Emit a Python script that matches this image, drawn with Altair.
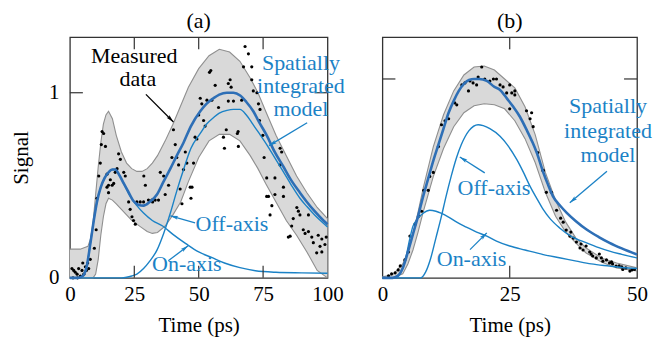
import math
import altair as alt
import pandas as pd

# ---------------- Panel (a) data ----------------
a_model_t = [0, 3, 5, 6.5, 8, 9.5, 10.5, 12, 13.5, 15, 16.5, 17.6, 19, 20.9, 22.5, 24.7, 26.5, 28.6, 31, 33.8,
             36, 39, 41.5, 44.1, 47, 50.6, 53, 55.7, 58, 60.9, 63.5, 66.1, 68.5, 71.2, 73.5, 76.4, 79.5, 82.9,
             86, 89.3, 92, 95, 98.4, 100]
a_model_s = [0, 0, 0.01, 0.06, 0.19, 0.33, 0.41, 0.49, 0.54, 0.57, 0.585, 0.585, 0.56, 0.51, 0.47, 0.415, 0.395,
             0.39, 0.41, 0.45, 0.51, 0.59, 0.66, 0.73, 0.82, 0.9, 0.94, 0.97, 0.99, 1.0, 1.0, 0.985, 0.95, 0.9,
             0.84, 0.77, 0.68, 0.6, 0.525, 0.46, 0.41, 0.36, 0.31, 0.29]

a_on_t = [0, 3, 5, 6.5, 8, 9.5, 10.5, 12, 13.5, 15, 16.5, 17.6, 19, 20.9, 23, 26, 28.6, 32, 36, 40, 45, 50, 55,
          60, 66, 72, 80, 90, 100]
a_on_s = [0, 0, 0.01, 0.06, 0.19, 0.33, 0.41, 0.49, 0.54, 0.57, 0.585, 0.585, 0.56, 0.51, 0.45, 0.39, 0.35, 0.31,
          0.28, 0.235, 0.185, 0.14, 0.11, 0.08, 0.055, 0.038, 0.03, 0.027, 0.025]

a_off_t = [0, 20, 22, 24, 26, 28.6, 31, 33.8, 36.4, 39, 41.5, 44, 47, 50.6, 53, 55.7, 58, 61, 63.5, 66, 68.5,
           71, 73.5, 76.4, 79.5, 83, 86, 89.3, 92, 95, 98.4, 100]
a_off_s = [0, 0, 0.003, 0.01, 0.02, 0.05, 0.09, 0.15, 0.24, 0.35, 0.47, 0.58, 0.7, 0.78, 0.83, 0.865, 0.89, 0.905,
           0.91, 0.91, 0.88, 0.83, 0.78, 0.72, 0.65, 0.57, 0.5, 0.43, 0.385, 0.34, 0.295, 0.275]

a_band_t = [0, 4, 7, 8, 9, 10, 11, 12, 13, 14, 15, 16.5, 18, 20, 22, 24, 26, 28, 30, 32, 34, 37, 40, 43, 46, 50,
            54, 58, 62, 66, 70, 73, 76, 80, 84, 88, 92, 96, 100]
a_band_hi = [0.155, 0.155, 0.17, 0.21, 0.3, 0.45, 0.6, 0.73, 0.83, 0.88, 0.9, 0.86, 0.77, 0.68, 0.62, 0.59, 0.575,
             0.575, 0.59, 0.62, 0.66, 0.74, 0.83, 0.93, 1.03, 1.13, 1.2, 1.235, 1.22, 1.17, 1.08, 1.0, 0.9, 0.77,
             0.66, 0.55, 0.46, 0.38, 0.32]
a_band_lo = [0, 0, 0, 0, 0, 0.02, 0.1, 0.23, 0.33, 0.4, 0.43, 0.42, 0.4, 0.37, 0.34, 0.31, 0.29, 0.27, 0.25, 0.24,
             0.245, 0.28, 0.34, 0.41, 0.52, 0.65, 0.74, 0.775, 0.775, 0.74, 0.66, 0.59, 0.51, 0.41, 0.31, 0.23,
             0.14, 0.04, 0.0]

a_pts_t = [0.8, 1.5, 2.1, 2.8, 3.4, 4.1, 4.7, 5.4, 6.0, 6.4, 6.9, 7.3, 7.9, 1.2, 3.0, 5.0,
           9.5, 10.2, 10.5, 11.2, 11.8, 12.2, 12.5, 13.1, 13.8, 14.4, 14.4, 15, 15, 15.7, 16.4, 17, 17.6, 18.3,
           18.9, 19.6, 20.9, 21.5, 22.8, 23.4, 24.1, 24.7, 25.4, 26, 27.3, 28.6, 28.7, 29.3, 30.5, 31.8, 32.1,
           33.1, 34.4,
           35.1, 36.4, 37, 38.3, 39.6, 40.2, 40.9, 41.5, 42.2, 42.8, 43.5, 44.1, 44.8, 45.4, 46.7, 47.0, 47.4, 48,
           48.6, 49.3, 50, 50.6, 51.2, 51.9, 52.5, 53.2, 54.2, 54.7, 55.1, 56.4, 57.7, 59.6, 60, 60.7, 61.5, 62.2,
           62.6, 61.5, 63.5, 65, 65.3, 65.4, 66.7, 67.4, 68, 69.3, 70.6, 70.6, 71.2, 72.6, 73.2, 73.6, 73.8, 74.9,
           75.4,
           76.4, 76.4, 77.1, 77.7, 78.4, 79.6, 79.6, 81.6, 81.6, 82.2, 82.9, 82.9, 84.8, 85.5, 86.1, 86.7, 88.1,
           88.7, 89.3, 90.6, 91.3, 92.6, 92.6, 93.9, 94.5, 95.8, 96.4, 97.1, 97.8, 97.8, 99, 99.5]
a_pts_s = [0.05, 0.04, 0.03, 0.02, 0.05, 0.01, 0.04, 0.02, 0.06, 0.04, 0.08, 0.05, 0.10, 0.0, 0.0, 0.08,
           0.16, 0.26, 0.43, 0.55, 0.62, 0.72, 0.79, 0.78, 0.71, 0.49, 0.56, 0.46, 0.5, 0.53, 0.5, 0.51, 0.57, 0.59,
           0.67, 0.64, 0.57, 0.55, 0.41, 0.37, 0.33, 0.31, 0.29, 0.41, 0.41, 0.41, 0.55, 0.50, 0.42, 0.42, 0.41,
           0.42, 0.42,
           0.57, 0.55, 0.45, 0.5, 0.65, 0.80, 0.72, 0.65, 0.61, 0.48, 0.40, 0.585, 0.68, 0.62, 0.49, 0.43, 0.49,
           0.62, 0.76, 0.75, 0.88, 0.97, 0.94, 0.85, 0.82, 0.96, 1.11, 1.12, 0.96, 1.04, 0.92, 0.76, 0.70, 0.80,
           1.05, 1.07, 1.03, 0.955, 0.955, 0.78, 0.79, 0.71, 0.96, 1.14, 1.25, 1.21, 1.14, 1.07, 1.01, 1.0, 0.94,
           0.85, 0.91, 0.77, 0.65,
           0.54, 0.44, 0.44, 0.34, 0.39, 0.54, 0.45, 0.70, 0.61, 0.68, 0.44, 0.49, 0.22, 0.225, 0.28, 0.32, 0.38,
           0.36, 0.34, 0.26, 0.24, 0.25, 0.34, 0.22, 0.19, 0.135, 0.23, 0.17, 0.21, 0.14, 0.18, 0.22]

# ---------------- Panel (b) data ----------------
b_model_t = [0, 2, 3, 4, 5, 6, 7, 8, 9, 10, 11, 12, 13, 14, 15, 16, 17, 18, 19, 20.5, 22, 23.1, 24.5, 25.7, 27,
             28.3, 29.5, 30.3, 31.6, 32.5, 33.5, 35, 36.2, 38, 40.1, 42.5, 44.6, 47, 50]
b_model_s = [0, 0, 0.01, 0.05, 0.13, 0.22, 0.31, 0.41, 0.5, 0.59, 0.67, 0.75, 0.83, 0.89, 0.94, 0.975, 0.995, 1.0,
             1.0, 0.99, 0.96, 0.945, 0.9, 0.86, 0.81, 0.745, 0.68, 0.63, 0.53, 0.47, 0.41, 0.36, 0.327, 0.285,
             0.243, 0.205, 0.176, 0.148, 0.117]

b_on_t = [0, 2.5, 3.5, 4.5, 5.4, 6, 6.7, 8, 9.3, 10.5, 11.5, 13, 14.6, 16.5, 18.5, 20.5, 22.4, 25, 28, 31.6, 35,
          38.1, 41, 44.6, 47, 50]
b_on_s = [0, 0, 0.02, 0.09, 0.2, 0.26, 0.29, 0.325, 0.34, 0.335, 0.325, 0.305, 0.28, 0.255, 0.23, 0.21, 0.185,
          0.16, 0.14, 0.117, 0.1, 0.084, 0.07, 0.059, 0.052, 0.047]

b_off_t = [0, 7.5, 8.5, 9.5, 10.5, 11.5, 12.5, 13.5, 14.5, 15.5, 17, 18.8, 19.8, 21.1, 23.1, 24.5, 26.4, 27.7, 29,
           30.3, 31.6, 33, 34.8, 37, 40.1, 42.5, 44.6, 47, 50]
b_off_s = [0, 0, 0.03, 0.1, 0.2, 0.3, 0.41, 0.51, 0.6, 0.67, 0.74, 0.77, 0.765, 0.75, 0.712, 0.67, 0.594, 0.53,
           0.46, 0.4, 0.343, 0.295, 0.251, 0.21, 0.176, 0.152, 0.134, 0.118, 0.1]

b_band_t = [0, 2, 4, 5, 6, 7, 8, 10, 12, 14, 16, 18, 20, 22, 24, 26, 28, 30, 32, 34, 36, 38, 40, 43, 46, 50]
b_band_hi = [0.005, 0.015, 0.07, 0.13, 0.22, 0.33, 0.45, 0.66, 0.82, 0.94, 1.02, 1.06, 1.065, 1.045, 1.0, 0.955,
             0.86, 0.72, 0.53, 0.39, 0.28, 0.2, 0.15, 0.1, 0.075, 0.05]
b_band_lo = [0, 0, 0.02, 0.07, 0.14, 0.23, 0.33, 0.51, 0.65, 0.76, 0.83, 0.865, 0.875, 0.87, 0.85, 0.79, 0.7,
             0.58, 0.43, 0.31, 0.23, 0.175, 0.125, 0.08, 0.05, 0.035]

b_pts_t = [1.2, 1.8, 2.5, 3.1, 3.5, 4.4, 5.1, 5.4, 6.4, 7.1, 7.7, 8.1, 9, 9.3, 10, 11, 11.6, 12.3, 13, 14.2, 14.6,
           15.6, 16.2, 16.9, 17.2, 17.8, 18.5, 18.8, 19.5, 20.1, 21.1, 21.8, 22.4, 23.1, 23.7, 24.4, 25, 25.4, 26,
           26, 25, 28.3, 29, 29.3, 29.6, 30.5, 31.5, 31.6, 32.2, 33.2, 34.2, 35.5, 36.1, 36.8, 37.5, 38.1, 38.8,
           39.4, 40, 40.7, 41.3, 42, 42.6, 43.3, 44, 44.6, 45.2, 45.9, 46.5, 47.2, 47.8, 48.6, 49.5, 35, 37, 39,
           41, 43, 45, 47, 49]
b_pts_s = [0.01, 0.02, 0.025, 0.04, 0.06, 0.09, 0.13, 0.21, 0.27, 0.31, 0.335, 0.44, 0.44, 0.51, 0.53, 0.66, 0.77,
           0.79, 0.8, 0.88, 0.87, 0.97, 0.98, 0.94, 0.99, 0.98, 0.97, 1.01, 1.06, 1.0, 0.99, 1.0, 1.0, 0.97, 0.96,
           0.93, 0.97, 0.93, 0.94, 0.92, 0.85, 0.84, 0.80, 0.83, 0.76, 0.63, 0.54, 0.54, 0.43, 0.43, 0.34, 0.28,
           0.24, 0.21, 0.2, 0.18, 0.15, 0.14, 0.16, 0.13, 0.11, 0.10, 0.12, 0.084, 0.09, 0.075, 0.07, 0.059, 0.06,
           0.042, 0.05, 0.034, 0.042, 0.3, 0.23, 0.17, 0.12, 0.1, 0.08, 0.055, 0.04]

# ---------------- Annotations ----------------
a_text = ["Measured", "data", "Spatially", "integrated", "model", "Off-axis", "On-axis"]
a_text_t = [25.0, 26.4, 89.7, 89.7, 89.7, 62.9, 45.4]
a_text_s = [1.16, 1.035, 1.124, 1.0, 0.876, 0.254, 0.038]
a_text_black = [True, True, False, False, False, False, False]
a_arrow_t = [29.5, 92.1, 48.6, 38.2]
a_arrow_s = [0.991, 0.838, 0.297, 0.092]
a_arrow_t2 = [40.2, 77.3, 39.0, 45.9]
a_arrow_s2 = [0.842, 0.714, 0.335, 0.173]
a_arrow_black = [True, False, False, False]

b_text = ["Spatially", "integrated", "model", "Off-axis", "On-axis"]
b_text_t = [44.3, 44.3, 44.3, 21.9, 17.5]
b_text_s = [0.829, 0.704, 0.581, 0.419, 0.059]
b_arrow_t = [44.1, 20.1, 17.2]
b_arrow_s = [0.536, 0.528, 0.142]
b_arrow_t2 = [36.8, 15.2, 20.5]
b_arrow_s2 = [0.377, 0.608, 0.226]

FONT = "Liberation Serif, Times New Roman, Times, serif"
BLUE = "#1b82c6"
BLUE_THICK = "#2e6fb6"
GRAY_FILL = "#d9d9d9"
GRAY_EDGE = "#8f8f8f"
FRAME = "#333333"
H = 241
# arrowhead with its tip at the symbol origin, body extending downward (points "up" unrotated)
ARROW = "M0,0L0.42,1.7L0,1.35L-0.42,1.7Z"


def build_panel(W, xmax, ymax, xticks, model, on, off, band, pts, texts, arrows, title, show_y):
    xs = alt.Scale(domain=[0, xmax], nice=False, zero=False)
    ys = alt.Scale(domain=[0, ymax], nice=False, zero=False)
    xaxis = alt.Axis(values=xticks, ticks=False, domain=False, grid=False, labelFont=FONT, labelFontSize=21,
                     labelColor="black", labelPadding=6, labelFlush=False, labelOverlap=False, format="d",
                     title="Time (ps)", titleFont=FONT, titleFontSize=21, titleFontWeight="normal",
                     titleColor="black", titlePadding=10)
    if show_y:
        yaxis = alt.Axis(values=[0, 1], ticks=False, domain=False, grid=False, labelFont=FONT, labelFontSize=21,
                         labelColor="black", labelPadding=11, labelFlush=False, labelOverlap=False, format="d",
                         minExtent=22, maxExtent=22,
                         title="Signal", titleFont=FONT, titleFontSize=21, titleFontWeight="normal",
                         titleColor="black", titlePadding=16)
    else:
        yaxis = None

    bt, bhi, blo = band
    band_df = pd.DataFrame({"t": bt, "hi": bhi, "lo": blo})
    x_enc = alt.X("t:Q", scale=xs, axis=xaxis)
    area = alt.Chart(band_df).mark_area(color=GRAY_FILL, opacity=1).encode(
        x=x_enc, y=alt.Y("hi:Q", scale=ys, axis=yaxis), y2="lo:Q")
    edge_hi = alt.Chart(band_df).mark_line(color=GRAY_EDGE, strokeWidth=1.1).encode(
        x=alt.X("t:Q", scale=xs), y=alt.Y("hi:Q", scale=ys))
    edge_lo = alt.Chart(band_df).mark_line(color=GRAY_EDGE, strokeWidth=1.1).encode(
        x=alt.X("t:Q", scale=xs), y=alt.Y("lo:Q", scale=ys))

    pts_df = pd.DataFrame({"t": pts[0], "s": pts[1]})
    dots = alt.Chart(pts_df).mark_circle(color="black", size=10, opacity=1).encode(
        x=alt.X("t:Q", scale=xs), y=alt.Y("s:Q", scale=ys))

    def curve(tv, sv, color, width):
        return alt.Chart(pd.DataFrame({"t": tv, "s": sv})).mark_line(
            color=color, strokeWidth=width, interpolate="monotone").encode(
            x=alt.X("t:Q", scale=xs), y=alt.Y("s:Q", scale=ys))

    l_on = curve(on[0], on[1], BLUE, 1.4)
    l_off = curve(off[0], off[1], BLUE, 1.4)
    l_model = curve(model[0], model[1], BLUE_THICK, 2.6)

    # inward ticks
    xt_df = pd.DataFrame({"t": [v for v in xticks if 0 < v < xmax]})
    tick_top = alt.Chart(xt_df).mark_rule(color=FRAME, strokeWidth=1.2).encode(
        x=alt.X("t:Q", scale=xs), y=alt.value(0), y2=alt.value(12))
    tick_bot = alt.Chart(xt_df).mark_rule(color=FRAME, strokeWidth=1.2).encode(
        x=alt.X("t:Q", scale=xs), y=alt.value(H), y2=alt.value(H - 12))
    yt_df = pd.DataFrame({"s": [1.0]})
    tick_l = alt.Chart(yt_df).mark_rule(color=FRAME, strokeWidth=1.2).encode(
        y=alt.Y("s:Q", scale=ys), x=alt.value(0), x2=alt.value(13))
    tick_r = alt.Chart(yt_df).mark_rule(color=FRAME, strokeWidth=1.2).encode(
        y=alt.Y("s:Q", scale=ys), x=alt.value(W - 13), x2=alt.value(W))

    # text
    tx, tt, ts, tcol = texts
    txt_df = pd.DataFrame({"txt": tx, "t": tt, "s": ts, "col": tcol})
    labels = alt.Chart(txt_df).mark_text(font=FONT, fontSize=22, baseline="alphabetic", align="center").encode(
        x=alt.X("t:Q", scale=xs), y=alt.Y("s:Q", scale=ys), text="txt:N",
        color=alt.Color("col:N", scale=None))

    # arrows
    at, asv, at2, as2, acol = arrows
    kx = W / xmax
    ky = H / ymax
    angles = []
    for i in range(len(at)):
        dx = (at2[i] - at[i]) * kx
        dy = -(as2[i] - asv[i]) * ky  # screen y grows downward
        angles.append(math.degrees(math.atan2(dx, -dy)) % 360)
    arr_df = pd.DataFrame({"t": at, "s": asv, "t2": at2, "s2": as2, "col": acol, "ang": angles})
    shafts = alt.Chart(arr_df).mark_rule(strokeWidth=1.3).encode(
        x=alt.X("t:Q", scale=xs), y=alt.Y("s:Q", scale=ys), x2="t2:Q", y2="s2:Q",
        color=alt.Color("col:N", scale=None))
    heads = alt.Chart(arr_df).mark_point(shape=ARROW, filled=True, size=85, opacity=1, strokeWidth=0).encode(
        x=alt.X("t2:Q", scale=xs), y=alt.Y("s2:Q", scale=ys), angle=alt.Angle("ang:Q", scale=None),
        color=alt.Color("col:N", scale=None))

    layer = alt.layer(area, edge_hi, edge_lo, dots, l_on, l_off, l_model,
                      tick_top, tick_bot, tick_l, tick_r, shafts, heads, labels).properties(
        width=W, height=H,
        title=alt.Title(title, font=FONT, fontSize=22, fontWeight="normal", color="black", offset=4))
    return layer


a_cols = ["black" if b else BLUE for b in a_text_black]
a_acols = ["black" if b else BLUE for b in a_arrow_black]
panel_a = build_panel(258, 100, 1.3, [0, 25, 50, 75, 100],
                      (a_model_t, a_model_s), (a_on_t, a_on_s), (a_off_t, a_off_s),
                      (a_band_t, a_band_hi, a_band_lo), (a_pts_t, a_pts_s),
                      (a_text, a_text_t, a_text_s, a_cols),
                      (a_arrow_t, a_arrow_s, a_arrow_t2, a_arrow_s2, a_acols), "(a)", True)
panel_b = build_panel(255, 50, 1.21, [0, 25, 50],
                      (b_model_t, b_model_s), (b_on_t, b_on_s), (b_off_t, b_off_s),
                      (b_band_t, b_band_hi, b_band_lo), (b_pts_t, b_pts_s),
                      (b_text, b_text_t, b_text_s, [BLUE] * len(b_text)),
                      (b_arrow_t, b_arrow_s, b_arrow_t2, b_arrow_s2, [BLUE] * len(b_arrow_t)), "(b)", False)

chart = alt.hconcat(panel_a, panel_b, spacing=55, bounds="flush").properties(
    padding={"left": 10, "top": 8, "right": 0, "bottom": 4}, background="white"
).configure_view(stroke=FRAME, strokeWidth=1.3).configure_concat(spacing=55)

chart.save("out.html", embed_options={"renderer": "svg", "actions": False})
